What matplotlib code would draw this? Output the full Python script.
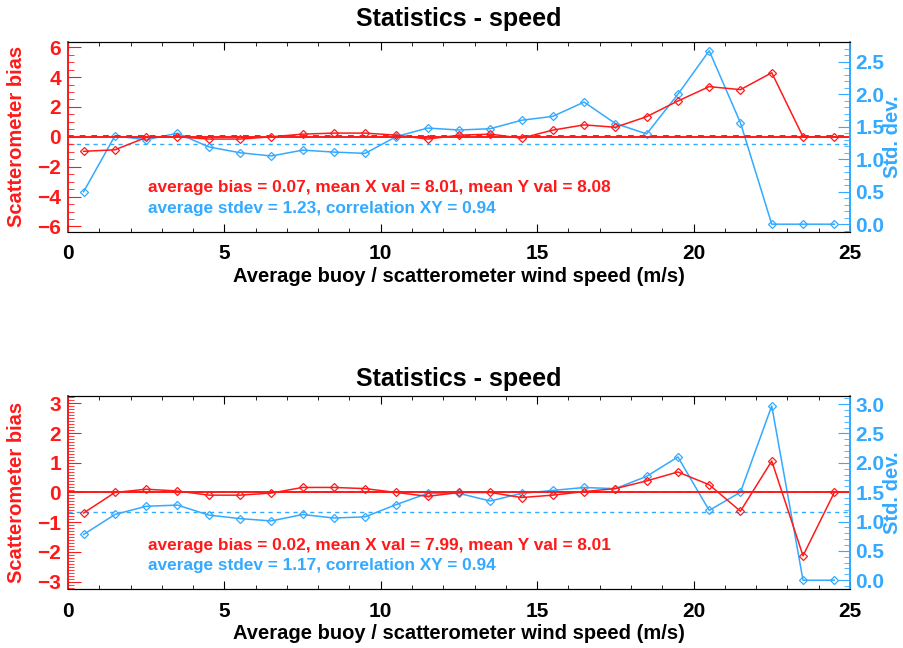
# -*- coding: utf-8 -*-
# scatterometer vs buoy wind speed statistics, two panels
from matplotlib import pyplot as plt
from matplotlib.ticker import MultipleLocator
import numpy

plt.rcParams['font.family'] = ['Liberation Sans', 'DejaVu Sans']
plt.rcParams['font.weight'] = 'bold'

red = '#ff1a1a'
blue = '#33aaff'

# bin centres of the wind speed (m/s)
speed_bins = numpy.arange(0.5, 25.0, 1.0)

# upper panel
bias_top = [-0.97, -0.87, -0.04, 0.0, -0.15, -0.15, 0.0, 0.18, 0.25, 0.25,
            0.11, -0.15, 0.11, 0.18, -0.09, 0.45, 0.80, 0.64, 1.35, 2.40,
            3.36, 3.16, 4.29, 0.0, 0.0]
stdev_top = [0.50, 1.36, 1.30, 1.40, 1.19, 1.10, 1.05, 1.14, 1.11, 1.09,
             1.35, 1.48, 1.45, 1.47, 1.60, 1.66, 1.88, 1.55, 1.39, 2.00,
             2.67, 1.56, 0.0, 0.0, 0.0]
avg_bias_top = 0.07
avg_stdev_top = 1.23
text_top = ["average bias = 0.07, mean X val = 8.01, mean Y val = 8.08",
            "average stdev = 1.23, correlation XY = 0.94"]

# lower panel
bias_bot = [-0.69, 0.0, 0.11, 0.05, -0.09, -0.09, -0.02, 0.17, 0.17, 0.13,
            0.0, -0.13, 0.0, 0.0, -0.17, -0.09, 0.03, 0.13, 0.39, 0.69,
            0.26, -0.63, 1.06, -2.13, 0.0]
stdev_bot = [0.78, 1.12, 1.26, 1.28, 1.11, 1.05, 1.01, 1.12, 1.06, 1.08,
             1.29, 1.48, 1.48, 1.35, 1.48, 1.53, 1.58, 1.56, 1.77, 2.10,
             1.19, 1.50, 2.97, 0.0, 0.0]
avg_bias_bot = 0.02
avg_stdev_bot = 1.17
text_bot = ["average bias = 0.02, mean X val = 7.99, mean Y val = 8.01",
            "average stdev = 1.17, correlation XY = 0.94"]


def stats_panel(rect, bias, stdev, avg_bias, avg_stdev, texts,
                bias_lim, bias_major, bias_minor, sd_lim, sd_max,
                title_pad, xlabel_y):
    ax = fig.add_axes(rect)
    ax2 = ax.twinx()

    ax.axhline(0, color=red, lw=1.4)
    ax.axhline(avg_bias, color=red, lw=1.4, ls=(0, (3, 3)))
    ax2.axhline(avg_stdev, color=blue, lw=1.0, ls=(0, (3, 3)))

    ax2.plot(speed_bins, stdev, color=blue, lw=1.1, marker='D', markersize=4,
             markerfacecolor='none', markeredgewidth=0.9)
    ax.plot(speed_bins, bias, color=red, lw=1.1, marker='D', markersize=4,
            markerfacecolor='none', markeredgewidth=0.9)
    ax.set_zorder(ax2.get_zorder() + 1)
    ax.patch.set_visible(False)

    ax.set_xlim(0, 25)
    ax.set_ylim(bias_lim)
    ax2.set_ylim(sd_lim)
    ax.xaxis.set_major_locator(MultipleLocator(5))
    ax.xaxis.set_minor_locator(MultipleLocator(1))
    ax.yaxis.set_major_locator(MultipleLocator(bias_major))
    ax.yaxis.set_minor_locator(MultipleLocator(bias_minor))
    ax2.set_yticks(numpy.arange(0, sd_max + 0.01, 0.5))
    ax2.yaxis.set_minor_locator(MultipleLocator(0.1))

    ax.tick_params(axis='x', which='both', direction='in', top=True,
                   labelsize=15, pad=9)
    ax.tick_params(axis='x', which='major', length=6)
    ax.tick_params(axis='x', which='minor', length=3)
    ax.tick_params(axis='y', which='both', direction='in', colors=red,
                   labelsize=15, pad=5)
    ax.tick_params(axis='y', which='major', length=9)
    ax.tick_params(axis='y', which='minor', length=4)
    ax2.tick_params(axis='y', which='both', direction='in', colors=blue,
                    labelsize=15, pad=4)
    ax2.tick_params(axis='y', which='major', length=9)
    ax2.tick_params(axis='y', which='minor', length=4)
    ax2.yaxis.set_major_formatter(plt.FormatStrFormatter('%.1f'))

    for a in (ax, ax2):
        a.spines['left'].set_color(red)
        a.spines['right'].set_color(blue)
        a.spines['left'].set_linewidth(1.3)
        a.spines['right'].set_linewidth(1.3)

    ax.set_title("Statistics - speed", fontsize=18, fontweight='bold',
                 pad=title_pad)
    ax.set_xlabel("Average buoy / scatterometer wind speed (m/s)",
                  fontsize=14.5, fontweight='bold', va='center')
    ax.xaxis.set_label_coords(0.5, xlabel_y)
    ax.set_ylabel("Scatterometer bias", color=red, fontsize=14.5,
                  fontweight='bold', va='center', ha='center')
    ax.yaxis.set_label_coords(-0.066, 0.5)
    ax2.set_ylabel("Std. dev.", color=blue, fontsize=14.5,
                   fontweight='bold', rotation=90, va='center', ha='center')
    ax2.yaxis.set_label_coords(1.055, 0.5)

    ax.text(0.102, texts[0][1], texts[0][0], transform=ax.transAxes,
            color=red, fontsize=12.4, fontweight='bold', va='center')
    ax.text(0.102, texts[1][1], texts[1][0], transform=ax.transAxes,
            color=blue, fontsize=12.4, fontweight='bold', va='center')
    return ax


fig = plt.figure(figsize=(9.04, 6.48), dpi=100)

stats_panel([0.0752, 0.642, 0.865, 0.2937], bias_top, stdev_top,
            avg_bias_top, avg_stdev_top,
            [(text_top[0], 0.236), (text_top[1], 0.126)],
            (-6.37, 6.37), 2, 0.5, (-0.12, 2.81), 2.5, 11, -0.236)

stats_panel([0.0752, 0.091, 0.865, 0.298], bias_bot, stdev_bot,
            avg_bias_bot, avg_stdev_bot,
            [(text_bot[0], 0.228), (text_bot[1], 0.124)],
            (-3.25, 3.25), 1, 0.1, (-0.15, 3.14), 3.0, 7, -0.228)

plt.savefig('out.png', dpi=100)
